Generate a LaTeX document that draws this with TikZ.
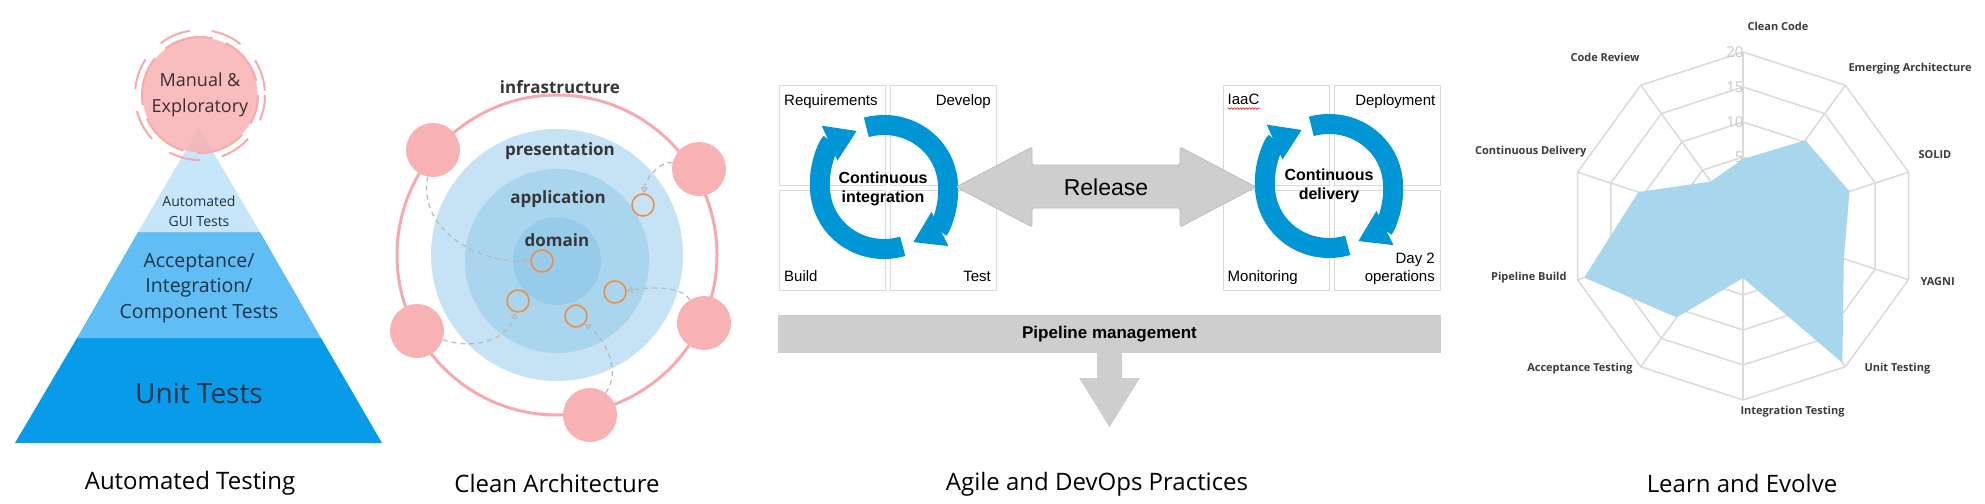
\documentclass[tikz,border=0pt]{standalone}
\usepackage{fontspec}
\setmainfont{Open Sans}
\newfontfamily\devfont{Liberation Sans}
\usepackage{xcolor}
\usetikzlibrary{arrows.meta,positioning,decorations.pathmorphing}

\definecolor{tierA}{RGB}{8,155,233}
\definecolor{tierB}{RGB}{96,190,245}
\definecolor{tierC}{RGB}{200,230,250}
\definecolor{tiertxt}{RGB}{27,51,71}
\definecolor{mantxt}{RGB}{60,46,48}
\definecolor{pinkfill}{RGB}{248,178,180}
\definecolor{pinkline}{RGB}{247,170,173}
\definecolor{ringA}{RGB}{197,227,244}
\definecolor{ringB}{RGB}{169,214,238}
\definecolor{ringC}{RGB}{151,203,234}
\definecolor{portorange}{RGB}{240,140,60}
\definecolor{depgray}{RGB}{185,185,185}
\definecolor{archtxt}{RGB}{55,55,55}
\definecolor{cycleblue}{RGB}{0,150,214}
\definecolor{boxline}{RGB}{217,217,217}
\definecolor{arrowgray}{RGB}{206,206,206}
\definecolor{arrowedge}{RGB}{190,190,190}
\definecolor{gridgray}{RGB}{218,218,218}
\definecolor{radarfill}{RGB}{168,214,237}
\definecolor{scalegray}{RGB}{200,200,200}
\definecolor{radartxt}{RGB}{60,60,60}

\newcommand{\fsz}[2]{\fontsize{#1}{#2}\selectfont}

\tikzset{
  caption/.style={font=\fsz{24}{28}, text=black},
  tiertext/.style={text=tiertxt, align=center},
  pinkdisk/.style={circle, fill=pinkfill, minimum size=54pt, inner sep=0pt},
  portring/.style={circle, draw=portorange, line width=1.5pt, minimum size=22pt, inner sep=0pt},
  archlabel/.style={font=\bfseries\fsz{17}{20}, text=archtxt},
  depline/.style={depgray, line width=1.2pt, dash pattern=on 5pt off 4pt, -{Triangle[open,width=7pt,length=6pt]}},
  devbox/.style={draw=boxline, line width=1pt, minimum width=106pt, minimum height=100pt, inner sep=0pt},
  devlabel/.style={font=\devfont\fsz{15}{18}, inner sep=0pt},
  cycletext/.style={font=\devfont\bfseries\fsz{16}{19}, align=center},
  cyclearc/.style={cycleblue, line width=20pt, -{Triangle[width=36pt,length=30pt]}},
  radarlabel/.style={font=\bfseries\fsz{11}{13}, text=radartxt},
  scalelabel/.style={font=\fsz{15}{17}, text=scalegray, anchor=east}
}

\begin{document}
\begin{tikzpicture}[x=1pt, y=-1pt]
  % Page frame
  \fill[white] (0,0) rectangle (1985,503);
  \useasboundingbox (0,0) rectangle (1985,503);

  % Test pyramid
  \fill[tierA] (15,443) -- (382,443) -- (321,338) -- (77,338) -- cycle;
  \fill[tierB] (77,338) -- (321,338) -- (260,232) -- (138,232) -- cycle;
  \fill[tierC] (138,232) -- (260,232) -- (199,128) -- cycle;
  \node[tiertext, font=\fsz{28}{32}] (unit) at (199,393) {Unit Tests};
  \node[tiertext, font=\fsz{19.5}{25.5}] (accept) at (199,288) {Acceptance/\\Integration/\\Component Tests};
  \node[tiertext, font=\fsz{14}{20}] (gui) at (199,211) {Automated\\GUI Tests};

  % Manual circle on the tip
  \node[circle, fill=pinkfill, fill opacity=0.85, text opacity=1, minimum size=104pt, text=mantxt, align=center, font=\fsz{18}{26}] (manual) at (200,95) {Manual \&\\Exploratory};
  \draw[pinkline, line width=2pt, dash pattern=on 50pt off 14pt, dash phase=20pt] (manual.center) circle (58);
  \draw[pinkline, line width=2pt, dash pattern=on 32pt off 22pt, dash phase=6pt] (manual.center) circle (65);
  \node[caption] (capTest) at (190,483) {Automated Testing};

  % Clean architecture rings
  \fill[ringA] (557,255) circle (126);
  \fill[ringB] (557,261) circle (92);
  \fill[ringC] (557,261) circle (44);
  \draw[pinkline, line width=3pt] (557,255) circle (160);

  \node[pinkdisk] (infA) at (433,150) {};
  \node[pinkdisk] (infB) at (699,169) {};
  \node[pinkdisk] (infC) at (704,323) {};
  \node[pinkdisk] (infD) at (417,331) {};
  \node[pinkdisk] (infE) at (590,415) {};

  \node[portring] (pA) at (643,205) {};
  \node[portring] (pB) at (542,261) {};
  \node[portring] (pC) at (615,292) {};
  \node[portring] (pD) at (518,301) {};
  \node[portring] (pE) at (576,316) {};

  \node[archlabel] (infra) at (560,87) {infrastructure};
  \node[archlabel] (pres) at (560,151) {presentation};
  \node[archlabel] (appl) at (558,199) {application};
  \node[archlabel] (dom) at (557,240) {domain};

  % dependencies point inwards
  \draw[depline] (infA) .. controls (418,225) and (470,262) .. (pB);
  \draw[depline] (infB) .. controls (660,160) and (645,180) .. (pA);
  \draw[depline] (infC) .. controls (680,284) and (645,288) .. (pC);
  \draw[depline] (infD) .. controls (480,352) and (510,335) .. (pD);
  \draw[depline] (infE) .. controls (622,370) and (605,340) .. (pE);
  \node[caption] (capArch) at (557,483) {Clean Architecture};

  % CI boxes
  \node[devbox] (req) at (832,135) {};
  \node[devbox, right=4.5pt of req] (dev) {};
  \node[devbox, below=4.5pt of req] (build) {};
  \node[devbox, right=4.5pt of build] (test) {};
  \node[devlabel, below right=9.5pt and 5.5pt of req.north west] (reqT) {Requirements};
  \node[devlabel, below left=9.5pt and 6pt of dev.north east] (devT) {Develop};
  \node[devlabel, above right=9pt and 5.5pt of build.south west] (buildT) {Build};
  \node[devlabel, above left=9pt and 6pt of test.south east] (testT) {Test};

  % CD boxes
  \node[devbox] (iac) at (1276,135) {};
  \node[devbox, right=4.5pt of iac] (deploy) {};
  \node[devbox, below=4.5pt of iac] (mon) {};
  \node[devbox, right=4.5pt of mon] (ops) {};
  \node[devlabel, below right=9.5pt and 5pt of iac.north west] (iacT) {IaaC};
  \draw[red, line width=0.6pt, decorate, decoration={snake, amplitude=0.8pt, segment length=3pt}]
    ([yshift=-3.5pt]iacT.south west) -- ([yshift=-3.5pt]iacT.south east);
  \node[devlabel, below left=9.5pt and 5.5pt of deploy.north east] (deployT) {Deployment};
  \node[devlabel, above right=6pt and 5pt of mon.south west] (monT) {Monitoring};
  \node[devlabel, align=right, above left=6pt and 6pt of ops.south east] (opsT) {Day 2\\operations};

  % cycle arrows
  \coordinate (ci) at (884,187);
  \draw[cyclearc] ([shift={(73:64 and 62)}]ci) arc[start angle=73, end angle=245, x radius=64, y radius=62];
  \draw[cyclearc] ([shift={(-106:64 and 62)}]ci) arc[start angle=-106, end angle=63, x radius=64, y radius=62];
  \node[cycletext] (ciT) at (883,189) {Continuous\\integration};

  \coordinate (cd) at (1329,186);
  \draw[cyclearc] ([shift={(73:64 and 62)}]cd) arc[start angle=73, end angle=245, x radius=64, y radius=62];
  \draw[cyclearc] ([shift={(-106:64 and 62)}]cd) arc[start angle=-106, end angle=63, x radius=64, y radius=62];
  \node[cycletext] (cdT) at (1329,186) {Continuous\\delivery};

  % Release double arrow
  \filldraw[fill=arrowgray, draw=arrowedge, line width=0.8pt, rounded corners=1.5pt]
    (956,187) -- (1032,147) -- (1032,165) -- (1180,165) -- (1180,147) -- (1256,187)
    -- (1180,227) -- (1180,208) -- (1032,208) -- (1032,227) -- cycle;
  \node[font=\devfont\fsz{23}{26}] (release) at (1106,187) {Release};

  % Pipeline bar
  \node[fill=arrowgray, minimum width=663pt, minimum height=38pt, font=\devfont\bfseries\fsz{17}{20}] (pipe) at (1109.5,334) {Pipeline management};
  \coordinate (pipetip) at (1109.5,428);
  \draw[arrowgray, line width=25pt, -{Triangle[width=57pt,length=50pt]}] (pipe.south) -- (pipetip);
  \node[caption] (capOps) at (1097,484) {Agile and DevOps Practices};

  % Radar chart
  \begin{scope}[shift={(1743,226)}]
    \foreach \r in {69,104,139,174}
      \draw[gridgray, line width=1.5pt] (-90:\r) \foreach \k in {1,...,9} { -- (-90+36*\k:\r) } -- cycle;
    \foreach \k in {0,...,9}
      \draw[gridgray, line width=1.5pt] (0,0) -- (-90+36*\k:174);
    \fill[radarfill] (-90:67) -- (-54:106) -- (-18:112) -- (18:106) -- (54:169) -- (90:52)
      -- (126:113) -- (162:167) -- (198:110) -- (234:55) -- cycle;
    \node[scalelabel] (sc20) at (4,-174) {20};
    \node[scalelabel] (sc15) at (4,-139) {15};
    \node[scalelabel] (sc10) at (4,-104) {10};
    \node[scalelabel] (sc5) at (4,-69) {5};
  \end{scope}

  \node[radarlabel, anchor=west] (lblClean) at (1744,26) {Clean Code};
  \node[radarlabel, anchor=west] (lblEmerge) at (1845,69) {Emerging Architecture};
  \node[radarlabel, anchor=west] (lblSolid) at (1915,155) {SOLID};
  \node[radarlabel, anchor=west] (lblYagni) at (1917,282) {YAGNI};
  \node[radarlabel, anchor=west] (lblUnit) at (1861,369) {Unit Testing};
  \node[radarlabel, anchor=west] (lblInteg) at (1737,412) {Integration Testing};
  \node[radarlabel, anchor=east] (lblAccept) at (1636,369) {Acceptance Testing};
  \node[radarlabel, anchor=east] (lblPipe) at (1570,278) {Pipeline Build};
  \node[radarlabel, anchor=east] (lblDeliv) at (1590,152) {Continuous Delivery};
  \node[radarlabel, anchor=east] (lblReview) at (1643,57) {Code Review};
  \node[caption] (capLearn) at (1742,483) {Learn and Evolve};
\end{tikzpicture}
\end{document}
